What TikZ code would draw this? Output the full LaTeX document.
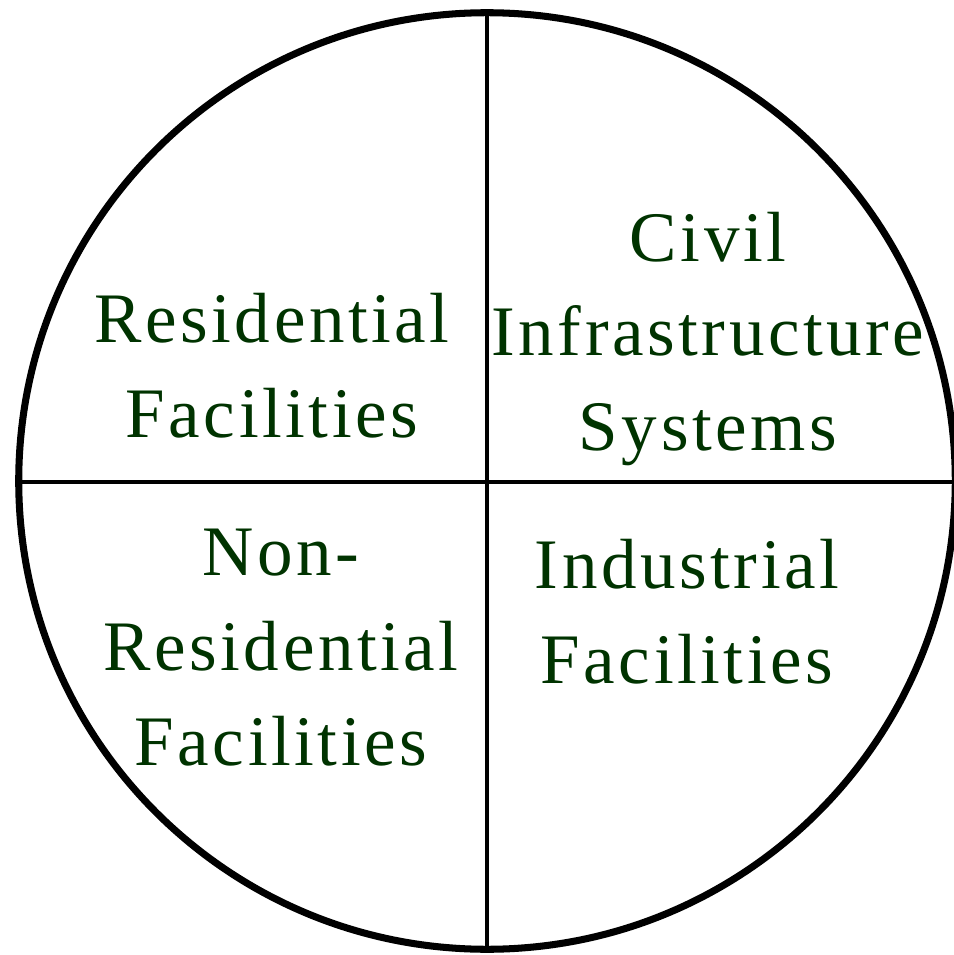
\documentclass[tikz,border=0pt]{standalone}
\usepackage{fontspec}
\usepackage{xcolor}
\usepackage{tikz}
\setmainfont[LetterSpace=5]{Liberation Serif}
\definecolor{darkgreen}{RGB}{0,51,0}

\tikzset{
  sector/.style={text=darkgreen, align=center, font=\fontsize{20.2}{27}\selectfont},
}

\begin{document}
\begin{tikzpicture}[x=0.01cm, y=-0.01cm]
    \useasboundingbox (0,0) rectangle (953,955);
    \draw[line width=2pt] (487,481) circle[radius=4.68cm];
    \draw[line width=1.1pt] (487,12) -- (487,950);
    \draw[line width=1.1pt] (19,482) -- (955,482);
    \node[sector] (residential) at (272,366) {Residential\\Facilities};
    \node[sector] (civil) at (708,339) {Civil\\Infrastructure\\Systems};
    \node[sector] (nonresidential) at (281,648) {Non-\\Residential\\Facilities};
    \node[sector] (industrial) at (687,612) {Industrial\\Facilities};
\end{tikzpicture}
\end{document}
